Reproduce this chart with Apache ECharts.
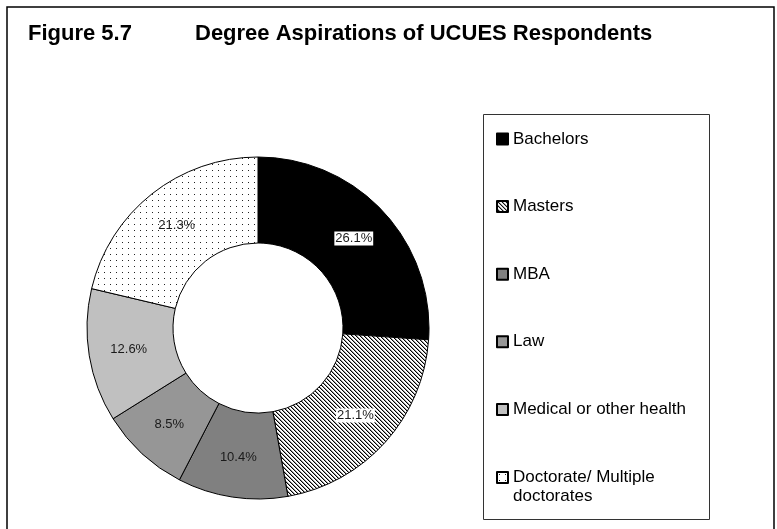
<!DOCTYPE html>
<html>
<head>
<meta charset="utf-8">
<script src="https://cdn.jsdelivr.net/npm/echarts@6/dist/echarts.min.js"></script>
<style>
    html, body { margin: 0; padding: 0; background: #fff; }
    #chart { width: 777px; height: 529px; }
</style>
</head>
<body>
<div id="chart"></div>
<script>
    // data
    const categories = ['Bachelors', 'Masters', 'MBA', 'Law', 'Medical or other health', 'Doctorate/ Multiple doctorates'];
    const shares = [26.1, 21.1, 10.4, 8.5, 12.6, 21.3];
    const labelBoxed = [true, true, false, false, false, false];

    // fill patterns (hatch for Masters, dots for Doctorate)
    function makeTile(size, draw) {
        const c = document.createElement('canvas');
        c.width = size; c.height = size;
        const ctx = c.getContext('2d');
        ctx.fillStyle = '#fff';
        ctx.fillRect(0, 0, size, size);
        draw(ctx);
        return c;
    }
    const hatch = makeTile(4, ctx => {
        for (let i = 0; i < 4; i++) {
            ctx.fillStyle = '#000';
            ctx.fillRect(i, i, 1, 1);
            ctx.fillStyle = '#999';
            ctx.fillRect((i + 1) % 4, i, 1, 1);
        }
    });
    const dots = makeTile(6, ctx => {
        ctx.fillStyle = '#222';
        ctx.fillRect(2, 2, 1, 1);
    });
    const fills = [
        '#000000',
        { image: hatch, repeat: 'repeat' },
        '#808080',
        '#969696',
        '#c0c0c0',
        { image: dots, repeat: 'repeat' }
    ];

    const chart = echarts.init(document.getElementById('chart'));

    const seriesData = categories.map((name, i) => ({
        name: name,
        value: shares[i],
        itemStyle: { color: fills[i] },
        label: labelBoxed[i] ? { backgroundColor: '#fff', padding: [1, 1, 0, 1] } : {}
    }));

    const titleFont = { fontFamily: 'Liberation Sans, Arial, sans-serif', fontWeight: 'bold', fontSize: 22, color: '#000' };
    const legendText = {
        fontFamily: 'Liberation Sans, Arial, sans-serif',
        fontSize: 17,
        lineHeight: 19,
        color: '#000'
    };

    const option = {
        animation: false,
        backgroundColor: '#fff',
        title: [
            { text: 'Figure 5.7', left: 28, top: 23, padding: 0, textStyle: titleFont },
            { text: 'Degree Aspirations of UCUES Respondents', left: 195, top: 23, padding: 0, textStyle: titleFont }
        ],
        graphic: [
            { type: 'rect', shape: { x: 7, y: 7, width: 767, height: 560 }, style: { fill: 'none', stroke: '#000', lineWidth: 1.5 } },
            { type: 'rect', shape: { x: 483.5, y: 114.5, width: 226, height: 405 }, style: { fill: 'none', stroke: '#333', lineWidth: 1 } }
        ],
        legend: [
            {
                data: categories.slice(0, 5),
                orient: 'vertical',
                left: 496, top: 129.5, padding: 0,
                itemGap: 48.6, itemWidth: 11, itemHeight: 11,
                icon: 'rect', selectedMode: false,
                textStyle: legendText
            },
            {
                // empty first line keeps the swatch level with "Doctorate/ Multiple"
                data: categories.slice(5),
                orient: 'vertical',
                left: 496, top: 449, padding: 0,
                itemWidth: 11, itemHeight: 11,
                icon: 'rect', selectedMode: false,
                formatter: name => '\n' + name.replace('Multiple ', 'Multiple\n'),
                textStyle: legendText
            }
        ],
        series: [
            {
                name: 'Degree aspirations',
                type: 'pie',
                center: [258, 328],
                radius: [85, 171],
                startAngle: 90,
                clockwise: true,
                avoidLabelOverlap: false,
                itemStyle: { borderColor: '#000', borderWidth: 1 },
                label: {
                    show: true,
                    position: 'inside',
                    formatter: p => p.value.toFixed(1) + '%',
                    fontFamily: 'Liberation Sans, Arial, sans-serif',
                    fontSize: 13,
                    color: '#1a1a1a'
                },
                labelLine: { show: false },
                emphasis: { disabled: true },
                data: seriesData
            }
        ]
    };

    chart.setOption(option);
</script>
</body>
</html>
